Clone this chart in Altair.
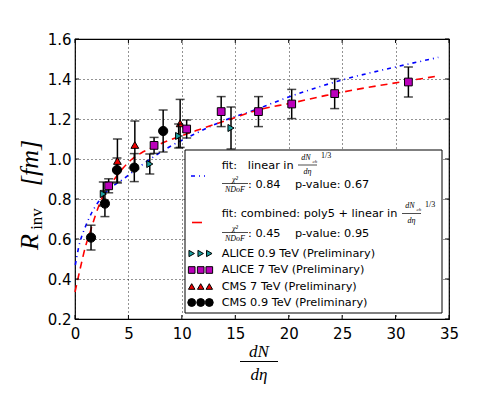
import altair as alt
import pandas as pd

# ---------------- data ----------------
cms09_x = [1.5, 2.8, 3.93, 5.55, 8.25]
cms09_y = [0.607, 0.777, 0.945, 0.957, 1.14]
cms09_e = [0.062, 0.065, 0.06, 0.07, 0.105]

cms7_x = [3.97, 5.6, 9.84]
cms7_y = [0.99, 1.07, 1.178]
cms7_e = [0.11, 0.12, 0.12]

alice7_x = [3.15, 7.4, 10.45, 13.68, 17.17, 20.28, 24.3, 31.2]
alice7_y = [0.866, 1.068, 1.15, 1.237, 1.237, 1.275, 1.327, 1.385]
alice7_e = [0.035, 0.04, 0.045, 0.075, 0.075, 0.073, 0.075, 0.075]

alice09_x = [2.65, 7.0, 9.7, 14.6]
alice09_y = [0.825, 0.975, 1.115, 1.155]
alice09_e = [0.06, 0.05, 0.06, 0.105]

# fit curves
blue_x = [0.03, 0.35, 1.0, 1.6, 2.25, 3.0, 4.4, 6.0, 8.65, 11.0, 13.7, 16.8, 20.0, 25.0, 30.0, 34.0]
blue_y = [0.47, 0.56, 0.665, 0.735, 0.79, 0.84, 0.895, 0.96, 1.055, 1.12, 1.187, 1.245, 1.31, 1.395, 1.46, 1.508]

red_x = [0.0, 0.5, 0.97, 1.45, 1.92, 2.86, 3.77, 4.5, 5.35, 6.2, 7.07, 8.5, 10.0, 11.5, 14.6, 17.1, 20.3, 23.5, 26.9, 30.5, 34.1]
red_y = [0.335, 0.455, 0.56, 0.64, 0.72, 0.84, 0.905, 0.955, 1.0, 1.03, 1.053, 1.087, 1.117, 1.145, 1.2, 1.245, 1.28, 1.318, 1.353, 1.385, 1.416]

x_ticks = [0, 5, 10, 15, 20, 25, 30, 35]
y_ticks = [0.2, 0.4, 0.6, 0.8, 1.0, 1.2, 1.4, 1.6]

NB = "\u00a0"
legend_labels = ["ALICE 0.9 TeV (Preliminary)", "ALICE 7 TeV (Preliminary)",
                 "CMS 7 TeV (Preliminary)", "CMS 0.9 TeV (Preliminary)"]
fit1_text = ["fit:" + NB * 3 + "linear in", ":" + NB + "0.84" + NB * 4 + "p-value:" + NB + "0.67"]
fit2_text = ["fit:" + NB + "combined: poly5 + linear in", ":" + NB + "0.45" + NB * 4 + "p-value:" + NB + "0.95"]

W, H = 374, 280
FONT = "DejaVu Sans"
MATH = "Liberation Serif"

xs = alt.Scale(domain=[0, 35], nice=False, zero=False)
ys = alt.Scale(domain=[0.2, 1.6], nice=False, zero=False)

xax = alt.Axis(values=x_ticks, title=None, labelFontSize=15, labelFont=FONT, labelColor="black",
               labelPadding=7, ticks=False, domain=False, grid=True, gridDash=[1, 3],
               gridColor="black", gridWidth=1, gridOpacity=0.85, labelFlush=False, labelOverlap=False)
yax = alt.Axis(values=y_ticks, title=None, format=".1f", labelFontSize=15, labelFont=FONT,
               labelColor="black", labelPadding=4, ticks=False, domain=False, grid=True,
               gridDash=[1, 3], gridColor="black", gridWidth=1, gridOpacity=0.85, labelFlush=False,
               labelOverlap=False, labelBound=False)


def X(field):
    return alt.X(field, scale=xs, axis=xax)


def Y(field):
    return alt.Y(field, scale=ys, axis=yax)


def series(xv, yv, ev, shape, fill, size, stroke="black"):
    df = pd.DataFrame({"x": xv, "y": yv, "e": ev})
    df["lo"] = df["y"] - df["e"]
    df["hi"] = df["y"] + df["e"]
    base = alt.Chart(df)
    bars = base.mark_rule(color="black", strokeWidth=1.5).encode(
        x=X("x:Q"), y=Y("lo:Q"), y2="hi:Q")
    cap_lo = base.mark_tick(color="black", orient="horizontal", size=9, thickness=1.5).encode(
        x=X("x:Q"), y=Y("lo:Q"))
    cap_hi = base.mark_tick(color="black", orient="horizontal", size=9, thickness=1.5).encode(
        x=X("x:Q"), y=Y("hi:Q"))
    pts = base.mark_point(shape=shape, filled=True, fill=fill, stroke=stroke, strokeWidth=1,
                          size=size, opacity=1).encode(x=X("x:Q"), y=Y("y:Q"))
    return [bars, cap_lo, cap_hi, pts]


one = pd.DataFrame({"a": [0]})


def txt(s, px, py, size=11, font=FONT, style="normal", align="left", angle=0, baseline="middle"):
    kw = dict(text=s, fontSize=size, font=font, fontStyle=style, align=align,
              baseline=baseline, color="black")
    if angle:
        kw["angle"] = angle
    return alt.Chart(one).mark_text(**kw).encode(x=alt.value(px), y=alt.value(py))


def hline(x1, x2, py, color="black", width=1, dash=None):
    kw = dict(color=color, strokeWidth=width)
    if dash:
        kw["strokeDash"] = dash
    return alt.Chart(one).mark_rule(**kw).encode(x=alt.value(x1), x2=alt.value(x2), y=alt.value(py))


layers = []

# fit curves
layers.append(alt.Chart(pd.DataFrame({"x": blue_x, "y": blue_y})).mark_line(
    color="#0000ff", strokeWidth=1.6, strokeDash=[4, 4, 1, 4], interpolate="monotone").encode(
    x=X("x:Q"), y=Y("y:Q")))
layers.append(alt.Chart(pd.DataFrame({"x": red_x, "y": red_y})).mark_line(
    color="#ff0000", strokeWidth=1.6, strokeDash=[7, 5], interpolate="monotone").encode(
    x=X("x:Q"), y=Y("y:Q")))

# data series
layers += series(cms09_x, cms09_y, cms09_e, "circle", "black", 85)
layers += series(cms7_x, cms7_y, cms7_e, "triangle-up", "#ee0000", 60)
layers += series(alice7_x, alice7_y, alice7_e, "square", "#bb00bb", 60)
layers += series(alice09_x, alice09_y, alice09_e, "triangle-right", "#1a9e9e", 50)

# inward ticks on all four sides
tx = pd.DataFrame({"t": x_ticks})
ty = pd.DataFrame({"t": y_ticks})
layers.append(alt.Chart(tx).mark_rule(color="black", strokeWidth=1).encode(
    x=X("t:Q"), y=alt.value(H), y2=alt.value(H - 4)))
layers.append(alt.Chart(tx).mark_rule(color="black", strokeWidth=1).encode(
    x=X("t:Q"), y=alt.value(0), y2=alt.value(4)))
layers.append(alt.Chart(ty).mark_rule(color="black", strokeWidth=1).encode(
    y=Y("t:Q"), x=alt.value(0), x2=alt.value(4)))
layers.append(alt.Chart(ty).mark_rule(color="black", strokeWidth=1).encode(
    y=Y("t:Q"), x=alt.value(W - 4), x2=alt.value(W)))

# ---------------- legend ----------------
layers.append(alt.Chart(one).mark_rect(fill="white", stroke="black", strokeWidth=1).encode(
    x=alt.value(110), x2=alt.value(367), y=alt.value(111), y2=alt.value(274)))

TX = 146.7
LF = 11.3
# entry 1: blue fit
layers.append(hline(116, 130, 137, color="#0000ff", width=1.6, dash=[4, 4, 1, 4]))
layers.append(txt(fit1_text[0], TX, 127, size=LF))
layers.append(txt("dN", 231, 119, size=8, font=MATH, style="italic", align="center"))
layers.append(txt("ch", 237.5, 121.5, size=5, font=MATH, style="italic", align="left"))
layers.append(hline(223, 242, 126, width=0.7))
layers.append(txt("dη", 232.5, 133, size=8, font=MATH, style="italic", align="center"))
layers.append(txt("1/3", 246, 117, size=8, font=MATH, align="left"))
layers.append(txt("χ²", 160, 140.5, size=8, font=MATH, style="italic", align="center"))
layers.append(hline(147, 173, 144.5, width=0.7))
layers.append(txt("NDoF", 160, 150.5, size=8, font=MATH, style="italic", align="center"))
layers.append(txt(fit1_text[1], 173, 146, size=LF))

# entry 2: red fit
layers.append(hline(117, 127, 183.5, color="#ff0000", width=1.6))
layers.append(txt(fit2_text[0], TX, 175, size=LF))
layers.append(txt("dN", 335, 167, size=8, font=MATH, style="italic", align="center"))
layers.append(txt("ch", 341.5, 169.5, size=5, font=MATH, style="italic", align="left"))
layers.append(hline(327, 346, 174.5, width=0.7))
layers.append(txt("dη", 336.5, 181.5, size=8, font=MATH, style="italic", align="center"))
layers.append(txt("1/3", 350, 165.5, size=8, font=MATH, align="left"))
layers.append(txt("χ²", 160, 189.5, size=8, font=MATH, style="italic", align="center"))
layers.append(hline(147, 173, 193.5, width=0.7))
layers.append(txt("NDoF", 160, 199.5, size=8, font=MATH, style="italic", align="center"))
layers.append(txt(fit2_text[1], 173, 195, size=LF))

# entries 3-6: markers
mk = [("triangle-right", "#1a9e9e", 40), ("square", "#bb00bb", 44),
      ("triangle-up", "#ee0000", 42), ("circle", "black", 62)]
row_y = [214.5, 231, 247.5, 263.5]
for (shape, fill, size), ry, lab in zip(mk, row_y, legend_labels):
    for mx in [116.7, 125.7, 134.3]:
        layers.append(alt.Chart(one).mark_point(shape=shape, filled=True, fill=fill, stroke="black",
                                                strokeWidth=1, size=size, opacity=1).encode(
            x=alt.value(mx), y=alt.value(ry)))
    layers.append(txt(lab, TX, ry, size=LF))

# ---------------- axis titles ----------------
layers.append(txt("R", -45, 203, size=26, font=MATH, style="italic", align="center", angle=270))
layers.append(txt("inv", -38, 180, size=17, font=MATH, align="center", angle=270))
layers.append(txt("[fm]", -45, 124, size=26, font=MATH, style="italic", align="center", angle=270))

layers.append(txt("dN", 184, 313, size=17, font=MATH, style="italic", align="center"))
layers.append(hline(165, 203, 322.5, width=1))
layers.append(txt("dη", 184, 336, size=17, font=MATH, style="italic", align="center"))

chart = alt.layer(*layers).properties(
    width=W, height=H,
    autosize=alt.AutoSizeParams(type="none"),
    padding={"left": 67, "top": 31, "right": 40, "bottom": 80},
    background="white",
).configure_view(stroke="black", strokeWidth=1.2).configure_axis(labelOverlap=False)

chart.save("out.html", embed_options={"renderer": "svg", "actions": False})
